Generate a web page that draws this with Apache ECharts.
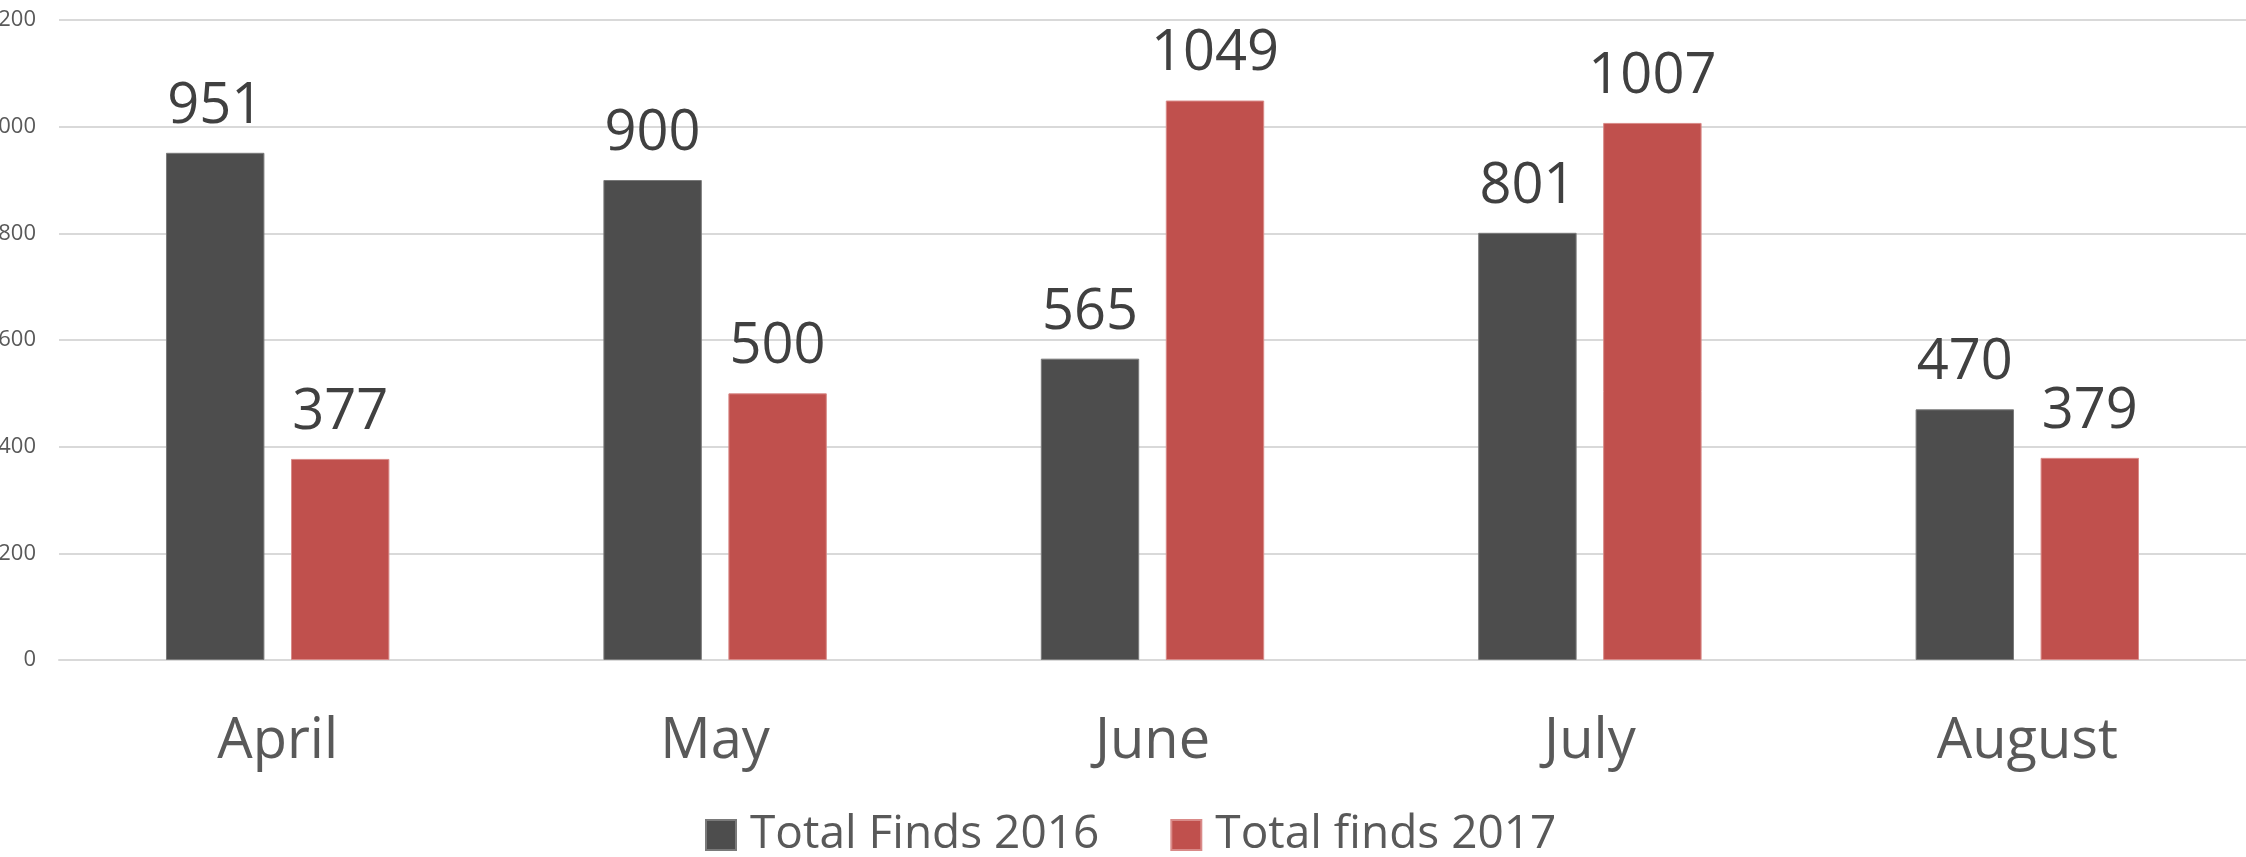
<!DOCTYPE html>
<html>
<head>
<meta charset="utf-8">
<script src="https://cdn.jsdelivr.net/npm/echarts@6/dist/echarts.min.js"></script>
<style>
html,body{margin:0;padding:0;background:#fff;}
#chart{width:2246px;height:857px;}
</style>
</head>
<body>
<div id="chart"></div>
<script>
const categories = ['April', 'May', 'June', 'July', 'August'];
const finds2016 = [951, 900, 565, 801, 470];
const finds2017 = [377, 500, 1049, 1007, 379];
const seriesNames = ['Total Finds 2016', 'Total finds 2017'];
const yTicks = { min: 0, max: 1200, interval: 200 };

const chart = echarts.init(document.getElementById('chart'), null, { renderer: 'canvas' });
const valueLabel = {
  show: true,
  position: 'top',
  distance: 18,
  fontFamily: 'Open Sans',
  fontSize: 56,
  color: '#404040'
};
chart.setOption({
  animation: false,
  backgroundColor: '#ffffff',
  grid: { left: 59, right: 0, top: 20, bottom: 197, containLabel: false, outerBoundsMode: 'none' },
  legend: {
    left: 700,
    top: 807,
    itemWidth: 30,
    itemHeight: 30,
    itemGap: 71,
    icon: 'rect',
    textStyle: {
      fontFamily: 'Open Sans',
      fontSize: 46,
      color: '#595959',
      lineHeight: 44,
      padding: [0, 0, 0, 9]
    },
    data: seriesNames
  },
  xAxis: {
    type: 'category',
    data: categories,
    axisTick: { show: false },
    axisLine: { show: true, lineStyle: { color: '#d9d9d9', width: 2 } },
    axisLabel: {
      fontFamily: 'Open Sans',
      fontSize: 56,
      color: '#595959',
      margin: 54
    }
  },
  yAxis: {
    type: 'value',
    min: yTicks.min,
    max: yTicks.max,
    interval: yTicks.interval,
    axisLine: { show: false },
    axisTick: { show: false },
    splitLine: { lineStyle: { color: '#d9d9d9', width: 2 } },
    axisLabel: {
      fontFamily: 'Open Sans',
      fontSize: 22,
      color: '#595959',
      margin: 23,
      formatter: function (v) { return String(v); }
    }
  },
  series: [
    {
      name: seriesNames[0],
      type: 'bar',
      data: finds2016,
      barWidth: '22.5%',
      barGap: '27%',
      itemStyle: { color: '#4d4d4d', borderColor: '#7a7a7a', borderWidth: 1 },
      label: valueLabel
    },
    {
      name: seriesNames[1],
      type: 'bar',
      data: finds2017,
      barWidth: '22.5%',
      itemStyle: { color: '#c0504d', borderColor: '#d98a88', borderWidth: 1 },
      label: valueLabel
    }
  ]
});
</script>
</body>
</html>
